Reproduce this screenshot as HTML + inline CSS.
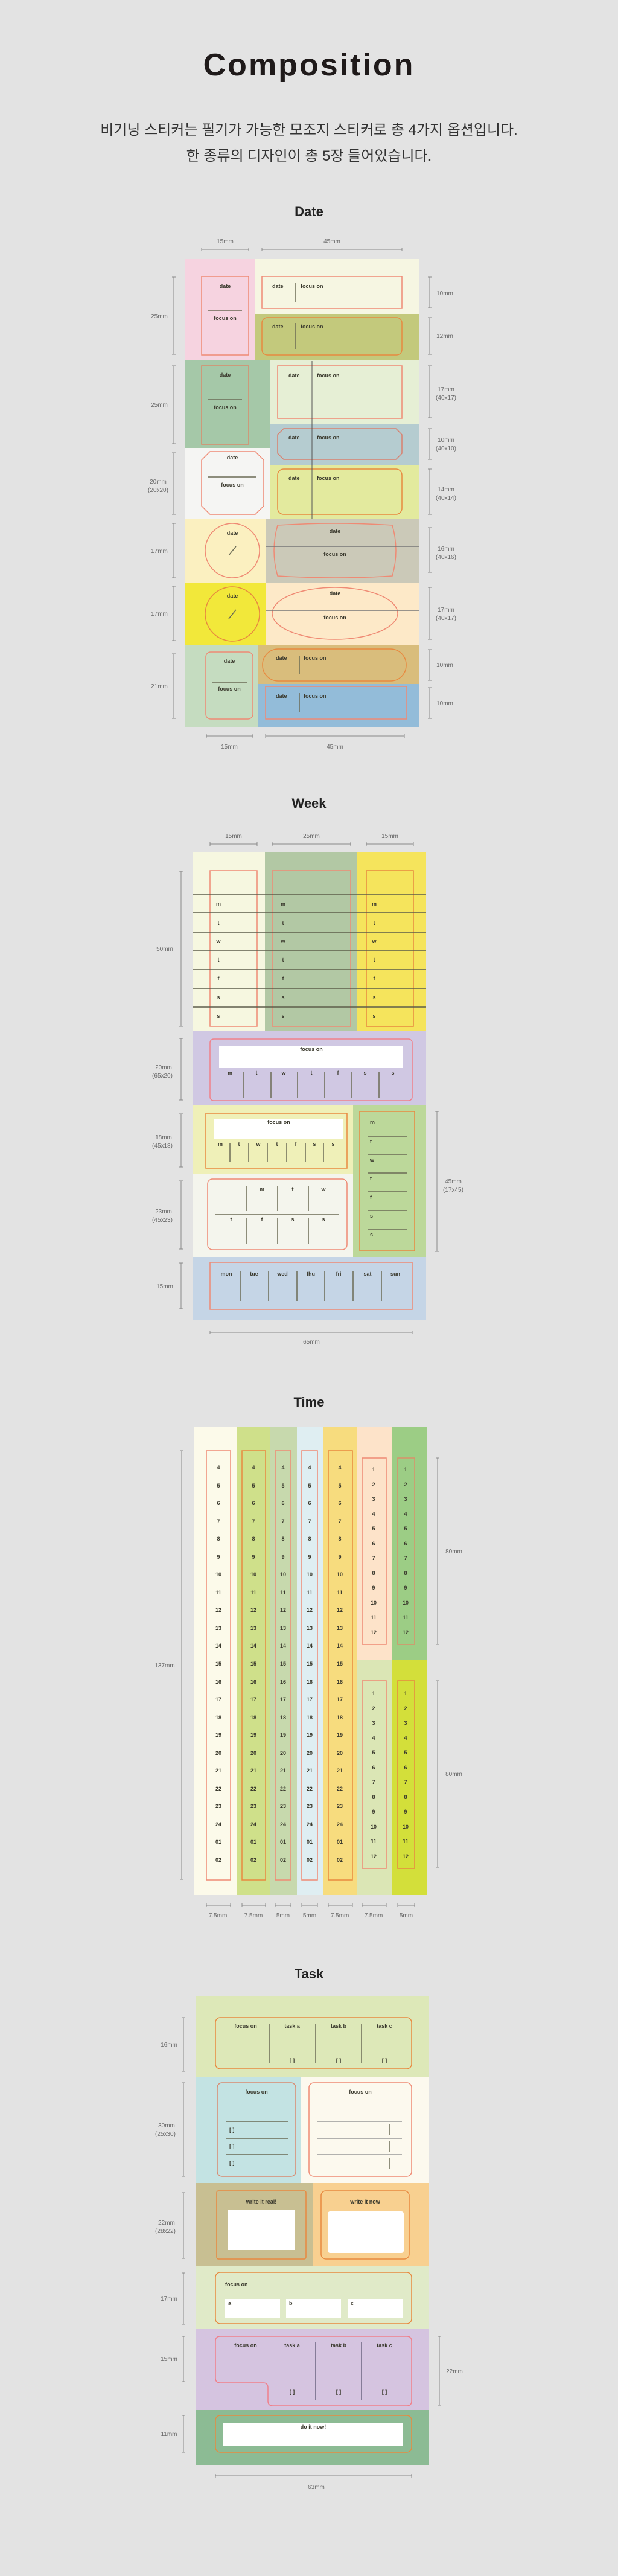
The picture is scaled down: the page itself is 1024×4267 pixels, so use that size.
<!DOCTYPE html>
<html><head><meta charset="utf-8">
<style>
html,body{margin:0;padding:0;background:#e3e3e3;}
#wrap{position:relative;width:1024px;height:4267px;overflow:hidden;background:#e3e3e3;}
svg{position:absolute;left:0;top:0;}
.l{font:bold 9px "Liberation Sans",sans-serif;fill:#3b3a2e;text-anchor:middle}
.ls{font:bold 9px "Liberation Sans",sans-serif;fill:#3b3a2e;text-anchor:start}
.d{font:10px "Liberation Sans",sans-serif;fill:#6a6a6a;text-anchor:middle}
.h{font:bold 22px "Liberation Sans",sans-serif;fill:#222;text-anchor:middle}
.dm{stroke:#888;stroke-width:1;fill:none}
.b{stroke:#ef8a74;stroke-width:1.5;fill:none}
.o{stroke:#e8893f;stroke-width:1.5;fill:none}
.s{stroke:#6b6b55;stroke-width:1.5}
.num{position:absolute;width:30px;margin-left:-15px;text-align:center;font:bold 9px "Liberation Sans",sans-serif;color:#3b3a2e;}
.ko{position:absolute;left:0;width:1024px;text-align:center;font:24px "Liberation Sans","Noto Sans CJK KR",sans-serif;color:#333;}
</style></head><body><div id="wrap">
<svg width="1024" height="4267" viewBox="0 0 1024 4267" xmlns="http://www.w3.org/2000/svg">
<text x="512" y="125" style="font:bold 52px 'Liberation Sans',sans-serif;fill:#1f1a1a;letter-spacing:3px" text-anchor="middle">Composition</text>

<!-- ============ DATE ============ -->
<text x="512" y="358" class="h">Date</text>
<path class="dm" d="M334 413H412M334 410v6M412 410v6M434 413H666M434 410v6M666 410v6"/>
<text x="373" y="403" class="d">15mm</text><text x="550" y="403" class="d">45mm</text>
<!-- row A -->
<rect x="307" y="429" width="115" height="168" fill="#f6d3e0"/>
<rect x="422" y="429" width="272" height="91" fill="#f6f6e2"/>
<rect x="422" y="520" width="272" height="77" fill="#c3c97c"/>
<rect x="334" y="458" width="78" height="130" class="b"/>
<text x="373" y="477" class="l">date</text><line x1="344" y1="514" x2="401" y2="514" class="s"/><text x="373" y="530" class="l">focus on</text>
<rect x="434" y="458" width="232" height="53" class="b"/>
<text x="451" y="477" class="ls">date</text><line x1="490" y1="468" x2="490" y2="500" class="s"/><text x="498" y="477" class="ls">focus on</text>
<rect x="434" y="526" width="232" height="62" rx="9" class="o"/>
<text x="451" y="544" class="ls">date</text><line x1="490" y1="535" x2="490" y2="578" class="s"/><text x="498" y="544" class="ls">focus on</text>
<!-- row B -->
<rect x="307" y="597" width="141" height="145" fill="#a5c8a8"/>
<rect x="448" y="597" width="246" height="106" fill="#e6efd5"/>
<rect x="448" y="703" width="246" height="67" fill="#b5ccd0"/>
<rect x="334" y="606" width="78" height="130" stroke="#d98a6a" stroke-width="1.5" fill="none"/>
<text x="373" y="624" class="l">date</text><line x1="344" y1="662" x2="401" y2="662" class="s"/><text x="373" y="678" class="l">focus on</text>
<rect x="460" y="606" width="206" height="87" class="b"/>
<text x="478" y="625" class="ls">date</text><text x="525" y="625" class="ls">focus on</text>
<polygon points="470,710 656,710 666,720 666,751 656,761 470,761 460,751 460,720" stroke="#d9806e" stroke-width="1.5" fill="none"/>
<text x="478" y="728" class="ls">date</text><text x="525" y="728" class="ls">focus on</text>
<!-- row C -->
<rect x="307" y="742" width="141" height="118" fill="#f5f5f3"/>
<rect x="448" y="770" width="246" height="90" fill="#e3ea9e"/>
<polygon points="348,748 423,748 437,762 437,838 423,852 348,852 334,838 334,762" class="b"/>
<text x="385" y="761" class="l">date</text><line x1="344" y1="790" x2="425" y2="790" class="s"/><text x="385" y="806" class="l">focus on</text>
<rect x="460" y="777" width="206" height="75" rx="10" class="o"/>
<text x="478" y="795" class="ls">date</text><text x="525" y="795" class="ls">focus on</text>
<line x1="517" y1="598" x2="517" y2="860" stroke="#555" stroke-width="1"/>
<!-- row D -->
<rect x="307" y="860" width="134" height="105" fill="#fbf0c0"/>
<rect x="441" y="860" width="253" height="105" fill="#cbc9b8"/>
<circle cx="385" cy="912" r="45" class="b"/>
<text x="385" y="886" class="l">date</text><line x1="379" y1="920" x2="391" y2="905" class="s"/>
<path d="M460 870 Q555 864 650 870 Q662 912 650 954 Q555 960 460 954 Q448 912 460 870Z" class="b"/>
<line x1="441" y1="905" x2="694" y2="905" stroke="#777" stroke-width="1.5"/>
<text x="555" y="883" class="l">date</text><text x="555" y="921" class="l">focus on</text>
<!-- row E -->
<rect x="307" y="965" width="134" height="103" fill="#f2e83a"/>
<rect x="441" y="965" width="253" height="103" fill="#fde9c8"/>
<circle cx="385" cy="1017" r="45" class="o"/>
<text x="385" y="990" class="l">date</text><line x1="379" y1="1025" x2="391" y2="1010" class="s"/>
<ellipse cx="555" cy="1016" rx="104" ry="43" class="b"/>
<line x1="441" y1="1011" x2="694" y2="1011" stroke="#777" stroke-width="1.5"/>
<text x="555" y="986" class="l">date</text><text x="555" y="1026" class="l">focus on</text>
<!-- row F -->
<rect x="307" y="1068" width="121" height="136" fill="#c5dcc0"/>
<rect x="428" y="1068" width="266" height="65" fill="#d9bd7c"/>
<rect x="428" y="1133" width="266" height="71" fill="#93bcd9"/>
<rect x="341" y="1080" width="78" height="111" rx="8" class="b"/>
<text x="380" y="1098" class="l">date</text><line x1="351" y1="1130" x2="410" y2="1130" class="s"/><text x="380" y="1144" class="l">focus on</text>
<rect x="435" y="1075" width="238" height="53" rx="26" class="o"/>
<text x="457" y="1093" class="ls">date</text><line x1="496" y1="1087" x2="496" y2="1117" class="s"/><text x="503" y="1093" class="ls">focus on</text>
<rect x="440" y="1137" width="234" height="54" class="b"/>
<text x="457" y="1156" class="ls">date</text><line x1="496" y1="1148" x2="496" y2="1180" class="s"/><text x="503" y="1156" class="ls">focus on</text>
<!-- date dims -->
<path class="dm" d="M288 459V587M285 459h6M285 587h6 M288 606V735M285 606h6M285 735h6 M288 750V852M285 750h6M285 852h6 M288 867V957M285 867h6M285 957h6 M288 971V1061M285 971h6M285 1061h6 M288 1083V1190M285 1083h6M285 1190h6"/>
<text x="264" y="527" class="d">25mm</text><text x="264" y="674" class="d">25mm</text>
<text x="262" y="801" class="d">20mm</text><text x="262" y="815" class="d">(20x20)</text>
<text x="264" y="916" class="d">17mm</text><text x="264" y="1020" class="d">17mm</text><text x="264" y="1140" class="d">21mm</text>
<path class="dm" d="M712 459V510M709 459h6M709 510h6 M712 526V587M709 526h6M709 587h6 M712 606V692M709 606h6M709 692h6 M712 710V761M709 710h6M709 761h6 M712 777V852M709 777h6M709 852h6 M712 874V948M709 874h6M709 948h6 M712 973V1059M709 973h6M709 1059h6 M712 1076V1127M709 1076h6M709 1127h6 M712 1139V1190M709 1139h6M709 1190h6"/>
<text x="737" y="489" class="d">10mm</text><text x="737" y="560" class="d">12mm</text>
<text x="739" y="648" class="d">17mm</text><text x="739" y="662" class="d">(40x17)</text>
<text x="739" y="732" class="d">10mm</text><text x="739" y="746" class="d">(40x10)</text>
<text x="739" y="814" class="d">14mm</text><text x="739" y="828" class="d">(40x14)</text>
<text x="739" y="912" class="d">16mm</text><text x="739" y="926" class="d">(40x16)</text>
<text x="739" y="1013" class="d">17mm</text><text x="739" y="1027" class="d">(40x17)</text>
<text x="737" y="1105" class="d">10mm</text><text x="737" y="1168" class="d">10mm</text>
<path class="dm" d="M342 1219H419M342 1216v6M419 1216v6M440 1219H670M440 1216v6M670 1216v6"/>
<text x="380" y="1240" class="d">15mm</text><text x="555" y="1240" class="d">45mm</text>

<!-- ============ WEEK ============ -->
<text x="512" y="1338" class="h">Week</text>
<path class="dm" d="M348 1398H426M348 1395v6M426 1395v6M451 1398H581M451 1395v6M581 1395v6M607 1398H685M607 1395v6M685 1395v6"/>
<text x="387" y="1388" class="d">15mm</text><text x="516" y="1388" class="d">25mm</text><text x="646" y="1388" class="d">15mm</text>
<rect x="319" y="1412" width="120" height="296" fill="#f6f7e0"/>
<rect x="439" y="1412" width="153" height="296" fill="#b2c8a4"/>
<rect x="592" y="1412" width="114" height="296" fill="#f5e45c"/>
<rect x="348" y="1442" width="78" height="258" class="b"/>
<rect x="451" y="1442" width="130" height="258" class="b"/>
<rect x="607" y="1442" width="78" height="258" class="o"/>
<path stroke="#5d5d4a" stroke-width="1.5" d="M319 1482H706M319 1512H706M319 1544H706M319 1575H706M319 1606H706M319 1637H706M319 1668H706"/>
<g class="l">
<text x="362" y="1500">m</text><text x="362" y="1532">t</text><text x="362" y="1562">w</text><text x="362" y="1593">t</text><text x="362" y="1624">f</text><text x="362" y="1655">s</text><text x="362" y="1686">s</text>
<text x="469" y="1500">m</text><text x="469" y="1532">t</text><text x="469" y="1562">w</text><text x="469" y="1593">t</text><text x="469" y="1624">f</text><text x="469" y="1655">s</text><text x="469" y="1686">s</text>
<text x="620" y="1500">m</text><text x="620" y="1532">t</text><text x="620" y="1562">w</text><text x="620" y="1593">t</text><text x="620" y="1624">f</text><text x="620" y="1655">s</text><text x="620" y="1686">s</text>
</g>
<path class="dm" d="M300 1443V1700M297 1443h6M297 1700h6"/><text x="273" y="1575" class="d">50mm</text>
<!-- purple -->
<rect x="319" y="1708" width="387" height="123" fill="#d0c8e3"/>
<rect x="348" y="1721" width="335" height="102" rx="6" stroke="#f0808a" stroke-width="1.5" fill="none"/>
<rect x="363" y="1732" width="305" height="37" fill="#fff"/>
<text x="516" y="1741" class="l">focus on</text>
<g class="l"><text x="381" y="1780">m</text><text x="425" y="1780">t</text><text x="470" y="1780">w</text><text x="516" y="1780">t</text><text x="560" y="1780">f</text><text x="605" y="1780">s</text><text x="651" y="1780">s</text></g>
<path class="s" d="M403 1775V1818M449 1775V1818M493 1775V1818M538 1775V1818M582 1775V1818M628 1775V1818"/>
<path class="dm" d="M300 1720V1822M297 1720h6M297 1822h6"/><text x="271" y="1771" class="d">20mm</text><text x="269" y="1785" class="d">(65x20)</text>
<!-- yellowish -->
<rect x="319" y="1831" width="266" height="114" fill="#eff0b8"/>
<rect x="341" y="1844" width="234" height="91" class="o"/>
<rect x="354" y="1853" width="215" height="33" fill="#fff"/>
<text x="462" y="1862" class="l">focus on</text>
<g class="l"><text x="365" y="1898">m</text><text x="396" y="1898">t</text><text x="428" y="1898">w</text><text x="459" y="1898">t</text><text x="490" y="1898">f</text><text x="521" y="1898">s</text><text x="552" y="1898">s</text></g>
<path class="s" d="M381 1893V1925M412 1893V1925M443 1893V1925M475 1893V1925M506 1893V1925M536 1893V1925"/>
<path class="dm" d="M300 1845V1933M297 1845h6M297 1933h6"/><text x="271" y="1887" class="d">18mm</text><text x="269" y="1901" class="d">(45x18)</text>
<!-- white -->
<rect x="319" y="1945" width="266" height="137" fill="#f4f5ed"/>
<rect x="344" y="1953" width="231" height="117" rx="8" class="b"/>
<line x1="357" y1="2012" x2="561" y2="2012" class="s"/>
<g class="l"><text x="434" y="1973">m</text><text x="485" y="1973">t</text><text x="536" y="1973">w</text><text x="383" y="2023">t</text><text x="434" y="2023">f</text><text x="485" y="2023">s</text><text x="536" y="2023">s</text></g>
<path class="s" d="M409 1964V2006M460 1964V2006M511 1964V2006M409 2018V2060M460 2018V2060M511 2018V2060"/>
<path class="dm" d="M300 1956V2069M297 1956h6M297 2069h6"/><text x="271" y="2010" class="d">23mm</text><text x="269" y="2024" class="d">(45x23)</text>
<!-- green right -->
<rect x="585" y="1831" width="121" height="251" fill="#bcd89a"/>
<rect x="596" y="1841" width="91" height="231" class="o"/>
<g class="ls"><text x="613" y="1862">m</text><text x="613" y="1894">t</text><text x="613" y="1925">w</text><text x="613" y="1955">t</text><text x="613" y="1986">f</text><text x="613" y="2017">s</text><text x="613" y="2048">s</text></g>
<path class="s" d="M609 1882H674M609 1913H674M609 1943H674M609 1974H674M609 2005H674M609 2036H674"/>
<path class="dm" d="M724 1841V2073M721 1841h6M721 2073h6"/><text x="751" y="1960" class="d">45mm</text><text x="751" y="1974" class="d">(17x45)</text>
<!-- blue -->
<rect x="319" y="2082" width="387" height="104" fill="#c5d5e6"/>
<rect x="348" y="2091" width="335" height="78" class="b"/>
<g class="l"><text x="375" y="2113">mon</text><text x="421" y="2113">tue</text><text x="468" y="2113">wed</text><text x="515" y="2113">thu</text><text x="561" y="2113">fri</text><text x="609" y="2113">sat</text><text x="655" y="2113">sun</text></g>
<path class="s" d="M399 2106V2155M445 2106V2155M492 2106V2155M538 2106V2155M585 2106V2155M632 2106V2155"/>
<path class="dm" d="M300 2092V2168M297 2092h6M297 2168h6"/><text x="273" y="2134" class="d">15mm</text>
<path class="dm" d="M348 2207H683M348 2204v6M683 2204v6"/><text x="516" y="2226" class="d">65mm</text>

<!-- ============ TIME ============ -->
<text x="512" y="2330" class="h">Time</text>
<rect x="321" y="2363" width="71" height="776" fill="#fcfaea"/>
<rect x="392" y="2363" width="56" height="776" fill="#cfe08a"/>
<rect x="448" y="2363" width="44" height="776" fill="#c7d9ad"/>
<rect x="492" y="2363" width="43" height="776" fill="#dfeef2"/>
<rect x="535" y="2363" width="57" height="776" fill="#f7dc7e"/>
<rect x="592" y="2363" width="57" height="387" fill="#fde3c9"/>
<rect x="592" y="2750" width="57" height="389" fill="#dbe6b5"/>
<rect x="649" y="2363" width="59" height="387" fill="#9ccd85"/>
<rect x="649" y="2750" width="59" height="389" fill="#d3df3a"/>
<rect x="342" y="2403" width="40" height="711" class="b"/>
<rect x="401" y="2403" width="39" height="711" class="o"/>
<rect x="456" y="2403" width="26" height="711" class="b"/>
<rect x="500" y="2403" width="26" height="711" class="b"/>
<rect x="544" y="2403" width="40" height="711" class="o"/>
<rect x="600" y="2415" width="40" height="309" class="b"/>
<rect x="659" y="2415" width="28" height="309" stroke="#d9906a" stroke-width="1.5" fill="none"/>
<rect x="600" y="2784" width="40" height="311" class="b"/>
<rect x="659" y="2784" width="28" height="311" class="o"/>
<path class="dm" d="M301 2403V3113M298 2403h6M298 3113h6"/><text x="273" y="2762" class="d">137mm</text>
<path class="dm" d="M725 2415V2724M722 2415h6M722 2724h6M725 2784V3093M722 2784h6M722 3093h6"/>
<text x="752" y="2573" class="d">80mm</text><text x="752" y="2942" class="d">80mm</text>
<path class="dm" d="M342 3156H382M342 3153v6M382 3153v6M401 3156H440M401 3153v6M440 3153v6M456 3156H482M456 3153v6M482 3153v6M500 3156H526M500 3153v6M526 3153v6M544 3156H584M544 3153v6M584 3153v6M600 3156H640M600 3153v6M640 3153v6M659 3156H687M659 3153v6M687 3153v6"/>
<g class="d"><text x="361" y="3176">7.5mm</text><text x="420" y="3176">7.5mm</text><text x="469" y="3176">5mm</text><text x="513" y="3176">5mm</text><text x="563" y="3176">7.5mm</text><text x="619" y="3176">7.5mm</text><text x="673" y="3176">5mm</text></g>

<!-- ============ TASK ============ -->
<text x="512" y="3277" class="h">Task</text>
<rect x="324" y="3307" width="387" height="133" fill="#dde8b8"/>
<rect x="357" y="3342" width="325" height="85" rx="8" class="o"/>
<g class="l"><text x="407" y="3359">focus on</text><text x="484" y="3359">task a</text><text x="561" y="3359">task b</text><text x="637" y="3359">task c</text>
<text x="484" y="3416">[ ]</text><text x="561" y="3416">[ ]</text><text x="637" y="3416">[ ]</text></g>
<path class="s" d="M447 3352V3418M523 3352V3418M599 3352V3418"/>
<path class="dm" d="M304 3342V3431M301 3342h6M301 3431h6"/><text x="280" y="3390" class="d">16mm</text>
<rect x="324" y="3440" width="175" height="176" fill="#c3e3e3"/>
<rect x="499" y="3440" width="212" height="176" fill="#fcf9ee"/>
<rect x="360" y="3450" width="130" height="155" rx="8" stroke="#d98a70" stroke-width="1.5" fill="none"/>
<text x="425" y="3468" class="l">focus on</text>
<path class="s" d="M374 3514H478M374 3542H478M374 3569H478"/>
<g class="ls"><text x="380" y="3531">[ ]</text><text x="380" y="3558">[ ]</text><text x="380" y="3586">[ ]</text></g>
<rect x="512" y="3450" width="170" height="155" rx="8" class="b"/>
<text x="597" y="3468" class="l">focus on</text>
<path stroke="#999" stroke-width="1.5" d="M526 3514H666M526 3542H666M526 3569H666"/>
<path class="s" d="M645 3519V3537M645 3547V3564M645 3575V3592"/>
<path class="dm" d="M304 3450V3605M301 3450h6M301 3605h6"/><text x="276" y="3524" class="d">30mm</text><text x="274" y="3538" class="d">(25x30)</text>
<rect x="324" y="3616" width="195" height="137" fill="#c8bf92"/>
<rect x="519" y="3616" width="192" height="137" fill="#f8d090"/>
<rect x="359" y="3629" width="148" height="113" rx="3" class="o"/>
<text x="433" y="3650" class="l">write it real!</text>
<rect x="377" y="3660" width="112" height="67" fill="#fff"/>
<rect x="532" y="3629" width="146" height="113" rx="8" class="o"/>
<text x="605" y="3650" class="l">write it now</text>
<rect x="543" y="3663" width="126" height="69" rx="4" fill="#fff"/>
<path class="dm" d="M304 3632V3741M301 3632h6M301 3741h6"/><text x="276" y="3685" class="d">22mm</text><text x="274" y="3699" class="d">(28x22)</text>
<rect x="324" y="3753" width="387" height="105" fill="#e0eac8"/>
<rect x="357" y="3764" width="325" height="85" rx="8" class="o"/>
<text x="373" y="3787" class="ls">focus on</text>
<rect x="373" y="3808" width="91" height="31" fill="#fff"/><rect x="474" y="3808" width="91" height="31" fill="#fff"/><rect x="576" y="3808" width="91" height="31" fill="#fff"/>
<g class="ls"><text x="378" y="3818">a</text><text x="479" y="3818">b</text><text x="581" y="3818">c</text></g>
<path class="dm" d="M304 3765V3850M301 3765h6M301 3850h6"/><text x="280" y="3811" class="d">17mm</text>
<rect x="324" y="3858" width="387" height="134" fill="#d5c4e0"/>
<path d="M365 3870H674Q682 3870 682 3878V3977Q682 3985 674 3985H452Q444 3985 444 3977V3955Q444 3947 436 3947H365Q357 3947 357 3939V3878Q357 3870 365 3870Z" stroke="#f0808a" stroke-width="1.5" fill="none"/>
<g class="l"><text x="407" y="3888">focus on</text><text x="484" y="3888">task a</text><text x="561" y="3888">task b</text><text x="637" y="3888">task c</text>
<text x="484" y="3965">[ ]</text><text x="561" y="3965">[ ]</text><text x="637" y="3965">[ ]</text></g>
<path stroke="#6b6580" stroke-width="1.5" d="M523 3880V3975M599 3880V3975"/>
<path class="dm" d="M304 3870V3945M301 3870h6M301 3945h6"/><text x="280" y="3911" class="d">15mm</text>
<path class="dm" d="M728 3870V3984M725 3870h6M725 3984h6"/><text x="753" y="3931" class="d">22mm</text>
<rect x="324" y="3992" width="387" height="91" fill="#8cbb94"/>
<rect x="357" y="4001" width="325" height="61" rx="8" class="o"/>
<rect x="370" y="4014" width="297" height="38" fill="#fff"/>
<text x="519" y="4023" class="l">do it now!</text>
<path class="dm" d="M304 4001V4062M301 4001h6M301 4062h6"/><text x="280" y="4035" class="d">11mm</text>
<path class="dm" d="M357 4101H682M357 4098v6M682 4098v6"/><text x="524" y="4123" class="d">63mm</text>
</svg>

<div class="ko" style="top:195px">비기닝 스티커는 필기가 가능한 모조지 스티커로 총 4가지 옵션입니다.</div>
<div class="ko" style="top:238px">한 종류의 디자인이 총 5장 들어있습니다.</div>

<div class="num" style="left:362px;top:2417px;line-height:29.55px">4<br>5<br>6<br>7<br>8<br>9<br>10<br>11<br>12<br>13<br>14<br>15<br>16<br>17<br>18<br>19<br>20<br>21<br>22<br>23<br>24<br>01<br>02</div>
<div class="num" style="left:420px;top:2417px;line-height:29.55px">4<br>5<br>6<br>7<br>8<br>9<br>10<br>11<br>12<br>13<br>14<br>15<br>16<br>17<br>18<br>19<br>20<br>21<br>22<br>23<br>24<br>01<br>02</div>
<div class="num" style="left:469px;top:2417px;line-height:29.55px">4<br>5<br>6<br>7<br>8<br>9<br>10<br>11<br>12<br>13<br>14<br>15<br>16<br>17<br>18<br>19<br>20<br>21<br>22<br>23<br>24<br>01<br>02</div>
<div class="num" style="left:513px;top:2417px;line-height:29.55px">4<br>5<br>6<br>7<br>8<br>9<br>10<br>11<br>12<br>13<br>14<br>15<br>16<br>17<br>18<br>19<br>20<br>21<br>22<br>23<br>24<br>01<br>02</div>
<div class="num" style="left:563px;top:2417px;line-height:29.55px">4<br>5<br>6<br>7<br>8<br>9<br>10<br>11<br>12<br>13<br>14<br>15<br>16<br>17<br>18<br>19<br>20<br>21<br>22<br>23<br>24<br>01<br>02</div>
<div class="num" style="left:619px;top:2422px;line-height:24.55px">1<br>2<br>3<br>4<br>5<br>6<br>7<br>8<br>9<br>10<br>11<br>12</div>
<div class="num" style="left:672px;top:2422px;line-height:24.55px">1<br>2<br>3<br>4<br>5<br>6<br>7<br>8<br>9<br>10<br>11<br>12</div>
<div class="num" style="left:619px;top:2793px;line-height:24.55px">1<br>2<br>3<br>4<br>5<br>6<br>7<br>8<br>9<br>10<br>11<br>12</div>
<div class="num" style="left:672px;top:2793px;line-height:24.55px">1<br>2<br>3<br>4<br>5<br>6<br>7<br>8<br>9<br>10<br>11<br>12</div>
</div></body></html>
